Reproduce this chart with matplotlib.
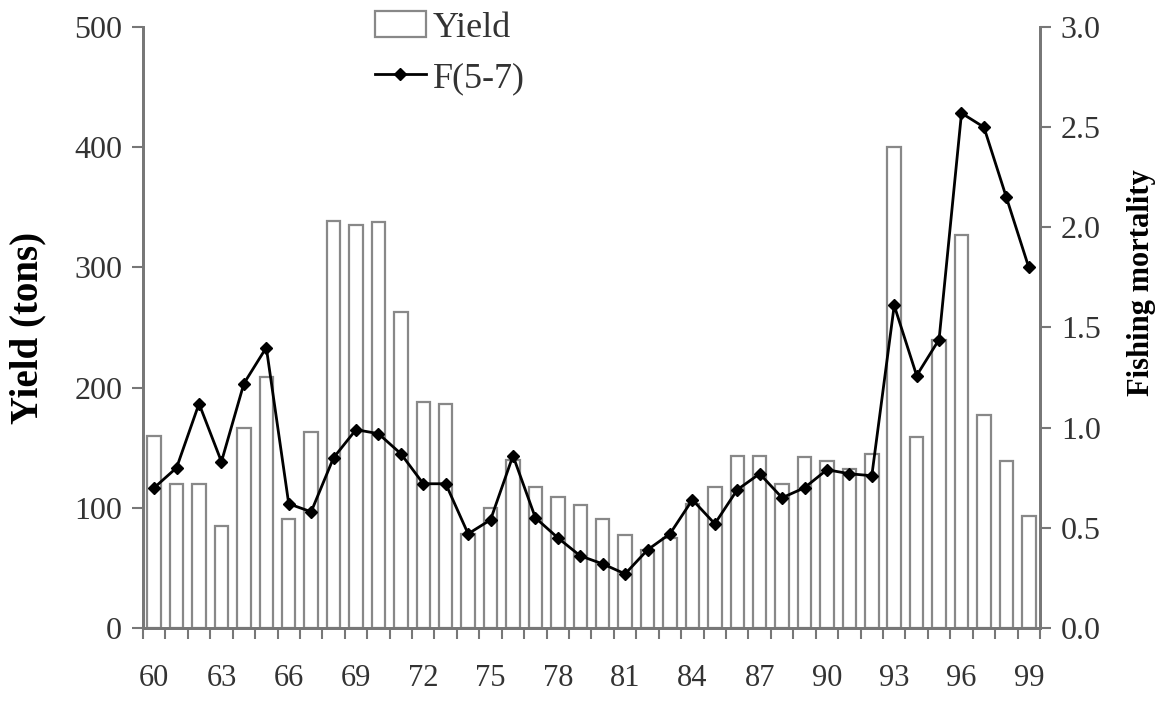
import numpy as np
import matplotlib.pyplot as plt

# yearly yield (tons) and fishing mortality F(5-7), 1960-1999
years = np.arange(60, 100)
yield_tons = [160, 120, 120, 85, 166, 209, 91, 163, 339, 335,
              338, 263, 188, 186, 78, 100, 140, 117, 109, 102,
              91, 77, 65, 75, 103, 117, 143, 143, 120, 142,
              139, 132, 145, 400, 159, 240, 327, 177, 139, 93]
f_57 = [0.70, 0.80, 1.12, 0.83, 1.22, 1.40, 0.62, 0.58, 0.85, 0.99,
        0.97, 0.87, 0.72, 0.72, 0.47, 0.54, 0.86, 0.55, 0.45, 0.36,
        0.32, 0.27, 0.39, 0.47, 0.64, 0.52, 0.69, 0.77, 0.65, 0.70,
        0.79, 0.77, 0.76, 1.61, 1.26, 1.44, 2.57, 2.50, 2.15, 1.80]
xlabels = [str(y) for y in range(60, 100, 3)]

plt.rcParams['font.family'] = 'Liberation Serif'
axis_col = '#777777'
text_col = '#333333'

fig = plt.figure(figsize=(11.68, 7.03), dpi=100)
ax1 = fig.add_axes([0.1224, 0.1067, 0.7680, 0.8549])
ax2 = ax1.twinx()

bars = ax1.bar(years, yield_tons, width=0.6, color='white',
               edgecolor='#888888', linewidth=1.6, label='Yield')
line, = ax2.plot(years, f_57, color='black', linewidth=2, marker='D',
                 markersize=6.5, label='F(5-7)')

ax1.set_xlim(59.5, 99.5)
ax1.set_ylim(0, 500)
ax2.set_ylim(0, 3.0)

ax1.set_yticks(np.arange(0, 501, 100))
ax2.set_yticks(np.arange(0, 3.01, 0.5))
ax2.set_yticklabels([f'{v:.1f}' for v in np.arange(0, 3.01, 0.5)])

# labels under every third year, tick marks between the years
ax1.set_xticks(np.arange(60, 100, 3))
ax1.set_xticklabels(xlabels)
ax1.set_xticks(np.arange(59.5, 100, 1), minor=True)
ax1.tick_params(axis='x', which='major', length=0, pad=26)
ax1.tick_params(axis='x', which='minor', length=8, width=1.5,
                color=axis_col, direction='out')

for ax in (ax1, ax2):
    ax.spines['top'].set_visible(False)
    for s in ('left', 'right', 'bottom'):
        ax.spines[s].set_color(axis_col)
        ax.spines[s].set_linewidth(2)
    ax.tick_params(axis='y', length=8, width=1.5, color=axis_col,
                   labelsize=23, labelcolor=text_col, pad=7)
ax1.tick_params(axis='x', labelsize=22, labelcolor=text_col)

ax1.set_ylabel('Yield (tons)', fontsize=28, fontweight='bold')
ax1.yaxis.set_label_coords(-0.108, 0.5)
ax2.set_ylabel('Fishing mortality', fontsize=22, fontweight='bold')
ax2.yaxis.set_label_coords(1.097, 0.574)

fig.legend(handles=[bars, line], labels=['Yield', 'F(5-7)'],
           loc='upper left', bbox_to_anchor=(375 / 1168, 1 - 11 / 703),
           frameon=False, fontsize=26, borderpad=0, borderaxespad=0,
           handlelength=1.4, handleheight=0.75, labelspacing=0.45,
           handletextpad=0.2, labelcolor=text_col)

fig.savefig('out.png', dpi=100)
